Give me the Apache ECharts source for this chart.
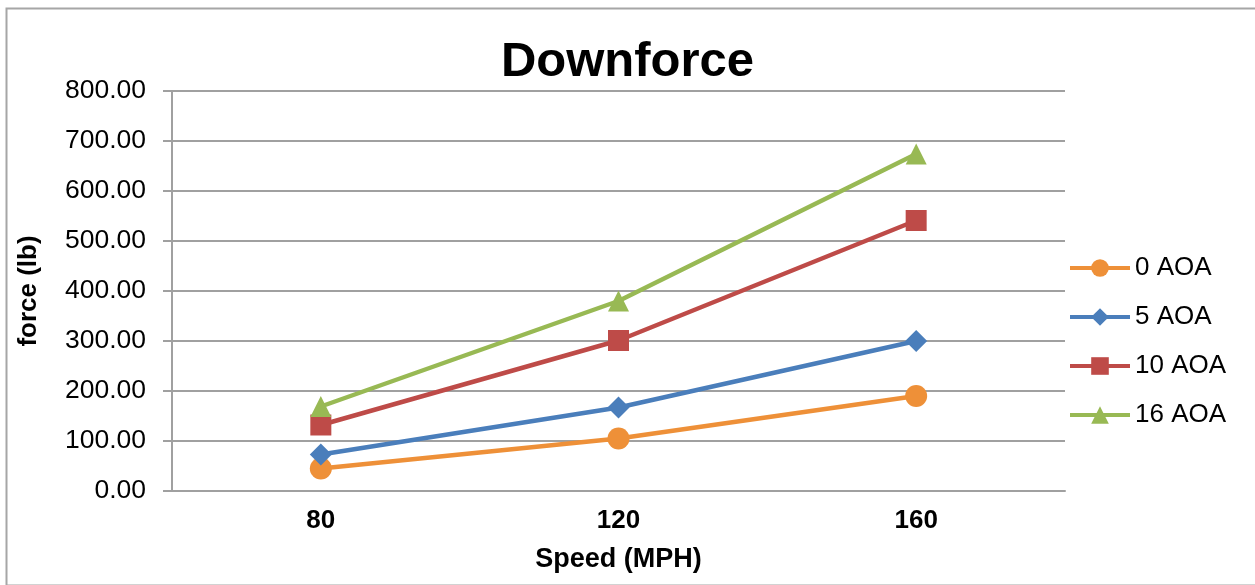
<!DOCTYPE html>
<html>
<head>
<meta charset="utf-8">
<script src="https://cdn.jsdelivr.net/npm/echarts@6/dist/echarts.min.js"></script>
<style>
html,body{margin:0;padding:0;background:#fff;}
#chart{width:1255px;height:585px;}
</style>
</head>
<body>
<div id="chart"></div>
<script>
var categories = ['80', '120', '160'];
var aoa0 = [45, 105, 190];
var aoa5 = [73, 167, 300];
var aoa10 = [132, 301, 541];
var aoa16 = [169, 380, 674];
var seriesNames = ['0 AOA', '5 AOA', '10 AOA', '16 AOA'];
var colors = ['#EE9038', '#4A7EBB', '#BE4B48', '#98B954'];

var font = 'Liberation Sans, Arial, sans-serif';
var chart = echarts.init(document.getElementById('chart'));
function mk(name, data, color, symbol, size) {
  return {
    name: name, type: 'line', data: data, symbol: symbol, symbolSize: size,
    lineStyle: { color: color, width: 4.5 },
    itemStyle: { color: color },
    emphasis: { disabled: true }
  };
}
chart.setOption({
  animation: false,
  backgroundColor: '#fff',
  graphic: [{
    type: 'rect', left: 4, top: 6, z: -1,
    shape: { width: 1270, height: 577 },
    style: { fill: 'none', stroke: '#A6A6A6', lineWidth: 2 }
  }],
  title: {
    text: 'Downforce', left: 'center', top: 33,
    textStyle: { fontFamily: font, fontSize: 49, fontWeight: 'bold', color: '#000' }
  },
  legend: {
    orient: 'vertical', left: 1063, top: 250, itemGap: 23,
    itemWidth: 60, itemHeight: 22,
    lineStyle: { width: 4 },
    textStyle: { fontFamily: font, fontSize: 26, color: '#000' },
    data: seriesNames
  },
  grid: { left: 172, right: 190, top: 91, bottom: 94, containLabel: false, outerBoundsMode: 'none' },
  xAxis: {
    type: 'category', data: categories, boundaryGap: true,
    name: 'Speed (MPH)', nameLocation: 'middle', nameGap: 55,
    nameTextStyle: { fontFamily: font, fontSize: 27, fontWeight: 'bold', color: '#000' },
    axisLine: { lineStyle: { color: '#A0A0A0', width: 2 } },
    axisTick: { show: false },
    axisLabel: { fontFamily: font, fontSize: 26, fontWeight: 'bold', color: '#000', margin: 17 }
  },
  yAxis: {
    type: 'value', min: 0, max: 800, interval: 100,
    name: 'force (lb)', nameLocation: 'middle', nameGap: 130, nameRotate: 90,
    nameTextStyle: { fontFamily: font, fontSize: 26, fontWeight: 'bold', color: '#000' },
    axisLine: { show: true, lineStyle: { color: '#A0A0A0', width: 2 } },
    axisTick: { show: true, length: 9, lineStyle: { color: '#A0A0A0', width: 2 } },
    axisLabel: { fontFamily: font, fontSize: 26.5, color: '#000', margin: 26,
      formatter: function (v) { return v.toFixed(2); } },
    splitLine: { lineStyle: { color: '#A0A0A0', width: 2 } }
  },
  series: [
    mk(seriesNames[0], aoa0, colors[0], 'circle', 22),
    mk(seriesNames[1], aoa5, colors[1], 'diamond', 22),
    mk(seriesNames[2], aoa10, colors[2], 'rect', 21),
    mk(seriesNames[3], aoa16, colors[3], 'triangle', 21)
  ]
});
</script>
</body>
</html>
